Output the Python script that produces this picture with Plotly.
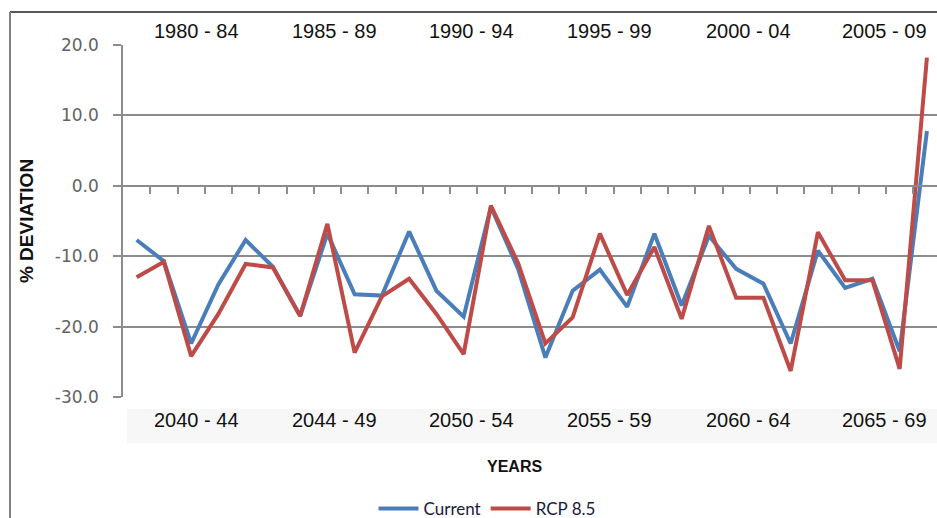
import plotly.graph_objects as go

# ---- data ----
years = list(range(1980, 2010))
current = [-7.7, -10.7, -22.4, -14.0, -7.7, -11.5, -18.5, -6.8, -15.4, -15.6,
           -6.5, -14.9, -18.6, -3.0, -11.8, -24.4, -14.9, -11.9, -17.2, -6.8,
           -17.0, -7.1, -11.8, -13.9, -22.4, -9.2, -14.5, -13.2, -23.5, 7.8]
rcp85 = [-13.0, -10.8, -24.2, -18.2, -11.1, -11.6, -18.5, -5.4, -23.7, -15.7,
         -13.2, -18.2, -23.9, -2.8, -11.0, -22.4, -18.7, -6.8, -15.5, -8.7,
         -18.9, -5.7, -15.9, -15.9, -26.3, -6.6, -13.4, -13.4, -26.0, 18.2]
top_labels = ["1980 - 84", "1985 - 89", "1990 - 94", "1995 - 99", "2000 - 04", "2005 - 09"]
bottom_labels = ["2040 - 44", "2044 - 49", "2050 - 54", "2055 - 59", "2060 - 64", "2065 - 69"]
y_ticks = [20, 10, 0, -10, -20, -30]

BLUE = "#4A7EBB"
RED = "#BE4B48"
GRID = "#8C8C8C"

W, H = 937, 518
L, R, T, B = 123, 0, 45, 121
pw, ph = W - L - R, H - T - B


def px_x(p):
    return (p - L) / pw


def px_y(p):
    return (H - B - p) / ph


fig = go.Figure()
fig.add_trace(go.Scatter(x=years, y=current, mode="lines", name="Current",
                         line=dict(color=BLUE, width=4)))
fig.add_trace(go.Scatter(x=years, y=rcp85, mode="lines", name="RCP 8.5",
                         line=dict(color=RED, width=4)))

ymin, ymax = -30, 20
fig.update_layout(
    width=W, height=H,
    margin=dict(l=L, r=R, t=T, b=B, pad=0, autoexpand=False),
    paper_bgcolor="white", plot_bgcolor="white",
    showlegend=True,
    legend=dict(orientation="h", x=px_x(487), xanchor="center",
                y=px_y(509), yanchor="middle",
                font=dict(family="Lato", size=17, color="#1a1a3a"),
                itemwidth=40, tracegroupgap=0),
    xaxis=dict(range=[years[0] - 0.5, years[0] - 0.5 + 29.87],
               anchor="free", position=(0 - ymin) / (ymax - ymin),
               showline=True, linecolor=GRID, linewidth=1.5,
               tickmode="array", tickvals=[y + 0.5 for y in years[:-1]],
               ticks="outside", ticklen=7, tickcolor=GRID, tickwidth=1.5,
               showticklabels=False, showgrid=False, zeroline=False),
    yaxis=dict(range=[ymin, ymax], tickmode="array", tickvals=y_ticks,
               ticktext=[f"{v:.1f}" for v in y_ticks],
               showline=True, linecolor=GRID, linewidth=1.5,
               ticks="outside", ticklen=8, tickcolor=GRID, tickwidth=1.5,
               ticklabelstandoff=11,
               showgrid=True, gridcolor=GRID, gridwidth=1.5, zeroline=False,
               tickfont=dict(family="DejaVu Sans", size=17, color="#636363"),
               title=dict(text="<b>% DEVIATION</b>", standoff=16,
                          font=dict(family="Liberation Sans", size=19, color="#111111"))),
)

# light band behind bottom period labels
fig.add_shape(type="rect", xref="paper", yref="paper",
              x0=px_x(127), x1=1.0, y0=px_y(443), y1=px_y(409),
              fillcolor="#F7F7F7", line=dict(width=0), layer="below")
# outer frame (top and left edges visible)
fig.add_shape(type="line", xref="paper", yref="paper",
              x0=px_x(10), x1=1.0, y0=px_y(12), y1=px_y(12),
              line=dict(color="#222222", width=1.5))
fig.add_shape(type="line", xref="paper", yref="paper",
              x0=px_x(10), x1=px_x(10), y0=px_y(12), y1=px_y(518),
              line=dict(color="#808080", width=2))

label_offsets = [2.2, 7.25, 12.3, 17.35, 22.45, 27.45]
for off, t_lab, b_lab in zip(label_offsets, top_labels, bottom_labels):
    fig.add_annotation(x=years[0] + off, y=px_y(31), xref="x", yref="paper",
                       text=t_lab, showarrow=False, yanchor="middle",
                       font=dict(family="Liberation Sans", size=20, color="#111111"))
    fig.add_annotation(x=years[0] + off, y=px_y(420), xref="x", yref="paper",
                       text=b_lab, showarrow=False, yanchor="middle",
                       font=dict(family="Liberation Sans", size=20, color="#111111"))

fig.add_annotation(x=px_x(514), y=px_y(466), xref="paper", yref="paper",
                   text="<b>YEARS</b>", showarrow=False, yanchor="middle",
                   font=dict(family="Liberation Sans", size=16, color="#111111"))

fig.write_html("out.html", config={"displayModeBar": False},
               post_script="document.body.style.margin='0';document.body.style.overflow='hidden';")
